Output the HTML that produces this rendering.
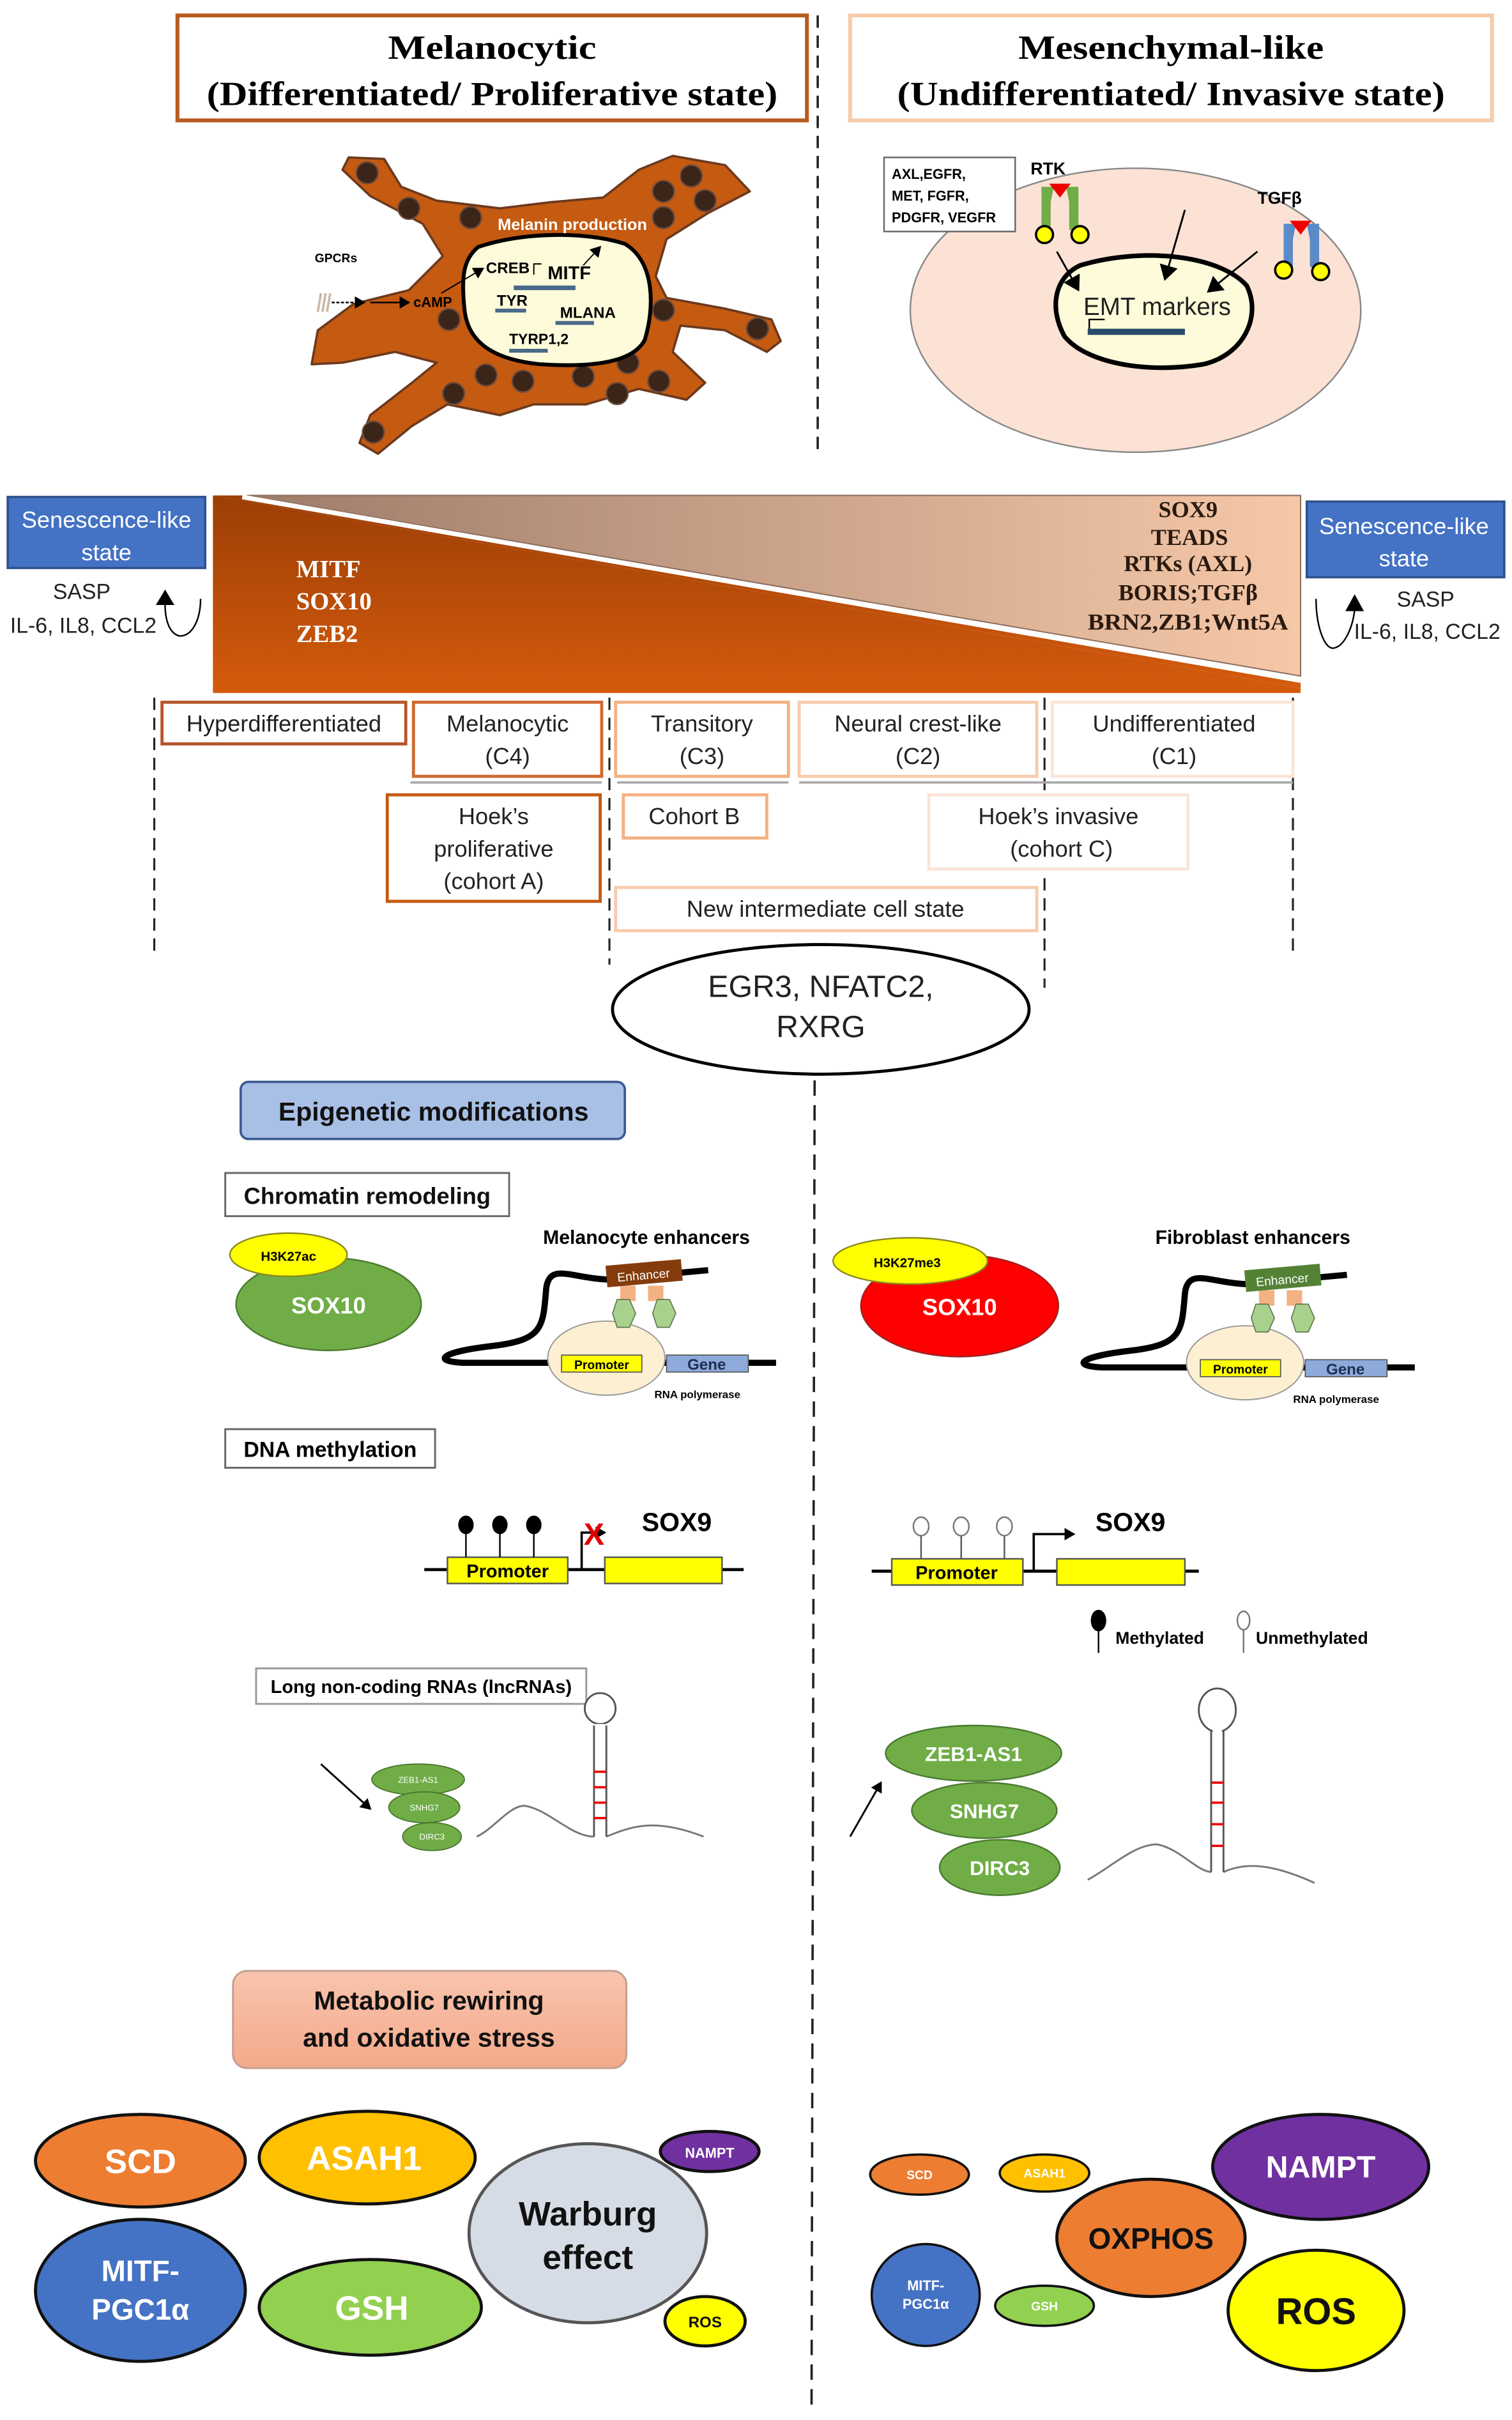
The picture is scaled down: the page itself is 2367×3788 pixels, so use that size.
<!DOCTYPE html>
<html><head><meta charset="utf-8"><style>
html,body{margin:0;padding:0;background:#fff}
svg{display:block}
.s{font-family:"Liberation Sans Narrow","Liberation Sans",sans-serif}
.r{font-family:"Liberation Serif",serif;font-weight:bold}
</style></head><body>
<svg width="2367" height="3788" viewBox="0 0 980 1568" preserveAspectRatio="none" xmlns="http://www.w3.org/2000/svg">
<defs>
<linearGradient id="dk" x1="0" y1="0" x2="0" y2="1"><stop offset="0" stop-color="#9c3e06"/><stop offset="1" stop-color="#d45b0c"/></linearGradient>
<linearGradient id="lt" x1="0" y1="0" x2="1" y2="0"><stop offset="0" stop-color="#9d7c6a"/><stop offset="1" stop-color="#f6c8a8"/></linearGradient>
<linearGradient id="met" x1="0" y1="0" x2="0" y2="1"><stop offset="0" stop-color="#f8c4ae"/><stop offset="1" stop-color="#f4a98a"/></linearGradient>
<marker id="ah" markerWidth="8" markerHeight="8" refX="6" refY="4" orient="auto" markerUnits="userSpaceOnUse"><path d="M0,0 L7,4 L0,8 z" fill="#000"/></marker>
<marker id="ah2" markerWidth="12" markerHeight="12" refX="9" refY="6" orient="auto" markerUnits="userSpaceOnUse"><path d="M0,0 L10,6 L0,12 z" fill="#000"/></marker>
</defs>
<rect width="980" height="1568" fill="#fff"/>

<!-- Titles -->
<rect x="115" y="10" width="408" height="68" fill="#fff" stroke="#b85a1e" stroke-width="2.5"/>
<text class="r" x="319" y="38" font-size="22" text-anchor="middle" textLength="135" lengthAdjust="spacingAndGlyphs">Melanocytic</text>
<text class="r" x="319" y="68" font-size="22" text-anchor="middle" textLength="370" lengthAdjust="spacingAndGlyphs">(Differentiated/ Proliferative state)</text>
<rect x="551" y="10" width="416" height="68" fill="#fff" stroke="#f7cba9" stroke-width="2.5"/>
<text class="r" x="759" y="38" font-size="22" text-anchor="middle" textLength="198" lengthAdjust="spacingAndGlyphs">Mesenchymal-like</text>
<text class="r" x="759" y="68" font-size="22" text-anchor="middle" textLength="355" lengthAdjust="spacingAndGlyphs">(Undifferentiated/ Invasive state)</text>
<line x1="530" y1="10" x2="530" y2="295" stroke="#222" stroke-width="1.5" stroke-dasharray="8,5"/>

<!-- Melanocyte -->
<path d="M226,102 L249,103 L260,121 L283,130 L324,135 L357,131 L391,128 L414,110 L436,101 L470,107 L486,124 L459,138 L432,155 L425,179 L432,193 L470,200 L500,207 L506,221 L497,228 L470,214 L441,211 L436,228 L457,248 L445,259 L414,252 L380,262 L346,262 L324,269 L290,262 L267,276 L245,294 L233,287 L240,269 L267,248 L283,235 L256,228 L222,235 L202,236 L206,214 L229,197 L265,188 L287,166 L274,145 L240,127 L222,110 Z" fill="#c55a11" stroke="#6b3a1e" stroke-width="1.5" stroke-linejoin="round"/>
<g fill="#3b2418" stroke="#6b4a3a" stroke-width="1">
<circle cx="238" cy="112" r="7"/><circle cx="265" cy="135" r="7"/><circle cx="305" cy="141" r="7"/>
<circle cx="448" cy="114" r="7"/><circle cx="430" cy="124" r="7"/><circle cx="457" cy="130" r="7"/><circle cx="430" cy="141" r="7"/>
<circle cx="291" cy="207" r="7"/><circle cx="430" cy="201" r="7"/><circle cx="491" cy="213" r="7"/>
<circle cx="315" cy="243" r="7"/><circle cx="339" cy="247" r="7"/><circle cx="378" cy="244" r="7"/><circle cx="407" cy="235" r="7"/><circle cx="427" cy="247" r="7"/><circle cx="400" cy="255" r="7"/><circle cx="294" cy="255" r="7"/><circle cx="242" cy="280" r="7"/>
</g>
<path d="M310,160 C340,150 380,150 405,158 C425,170 424,200 418,220 C410,236 380,238 350,236 C320,233 303,222 301,200 C299,180 300,168 310,160 Z" fill="#fdfbda" stroke="#000" stroke-width="2.5"/>
<text class="s" x="371" y="149" font-size="10.5" fill="#fff" font-weight="bold" text-anchor="middle">Melanin production</text>
<text class="s" x="204" y="170" font-size="8" font-weight="bold">GPCRs</text>
<g stroke="#c9b8a8" stroke-width="1.5" fill="none"><path d="M208,190 l-2,12"/><path d="M211,190 l-2,12"/><path d="M214,190 l-2,12"/></g>
<line x1="215" y1="196" x2="236" y2="196" stroke="#000" stroke-width="1" stroke-dasharray="2,1" marker-end="url(#ah)"/>
<line x1="240" y1="196" x2="265" y2="196" stroke="#000" stroke-width="1" marker-end="url(#ah)"/>
<text class="s" x="268" y="199" font-size="9" font-weight="bold">cAMP</text>
<line x1="286" y1="190" x2="313" y2="174" stroke="#000" stroke-width="0.8" marker-end="url(#ah)"/>
<text class="s" x="315" y="177" font-size="10" font-weight="bold">CREB</text>
<path d="M346,178 v-7 h5" stroke="#000" fill="none" stroke-width="0.8"/>
<text class="s" x="355" y="181" font-size="12" font-weight="bold">MITF</text>
<line x1="378" y1="172" x2="389" y2="160" stroke="#000" stroke-width="0.8" marker-end="url(#ah)"/>
<g fill="#4a6a8a"><rect x="333" y="185" width="40" height="3"/><rect x="321" y="200" width="20" height="2.5"/><rect x="360" y="208" width="25" height="2.5"/><rect x="330" y="226" width="25" height="2.5"/></g>
<text class="s" x="322" y="198" font-size="10" font-weight="bold">TYR</text>
<text class="s" x="363" y="206" font-size="10" font-weight="bold">MLANA</text>
<text class="s" x="330" y="223" font-size="9.5" font-weight="bold">TYRP1,2</text>

<!-- Mesenchymal cell -->
<ellipse cx="736" cy="201" rx="146" ry="92" fill="#fbe2d5" stroke="#888" stroke-width="1"/>
<path d="M700,172 C740,160 790,165 808,185 C818,205 806,230 780,236 C745,242 705,236 690,218 C680,200 683,180 700,172 Z" fill="#fdfbda" stroke="#000" stroke-width="3"/>
<rect x="573" y="102" width="85" height="48" fill="#fff" stroke="#666" stroke-width="1"/>
<text class="s" x="578" y="116" font-size="9" font-weight="bold">AXL,EGFR,</text>
<text class="s" x="578" y="130" font-size="9" font-weight="bold">MET, FGFR,</text>
<text class="s" x="578" y="144" font-size="9" font-weight="bold">PDGFR, VEGFR</text>
<text class="s" x="668" y="113" font-size="11" font-weight="bold">RTK</text>
<path d="M675,121 h8 l-2,10 v18 h-6 v-18 z" fill="#70ad47"/><path d="M699,121 h-8 l2,10 v18 h6 v-18 z" fill="#70ad47"/>
<path d="M680,119 h14 l-7,9 z" fill="#e00"/>
<circle cx="677" cy="152" r="5.5" fill="#ff0" stroke="#000" stroke-width="1.5"/><circle cx="700" cy="152" r="5.5" fill="#ff0" stroke="#000" stroke-width="1.5"/>
<text class="s" x="815" y="132" font-size="11" font-weight="bold">TGFβ</text>
<path d="M832,145 h8 l-2,10 v18 h-6 v-18 z" fill="#5b8ac8"/><path d="M855,145 h-8 l2,10 v18 h6 v-18 z" fill="#5b8ac8"/>
<path d="M836,143 h14 l-7,9 z" fill="#e00"/>
<circle cx="832" cy="175" r="5.5" fill="#ff0" stroke="#000" stroke-width="1.5"/><circle cx="856" cy="176" r="5.5" fill="#ff0" stroke="#000" stroke-width="1.5"/>
<g stroke="#000" stroke-width="1.2" fill="none">
<line x1="685" y1="163" x2="699" y2="188" marker-end="url(#ah2)"/>
<line x1="768" y1="136" x2="755" y2="181" marker-end="url(#ah2)"/>
<line x1="815" y1="163" x2="783" y2="189" marker-end="url(#ah2)"/>
</g>
<text class="s" x="750" y="204" font-size="16" text-anchor="middle" fill="#222">EMT markers</text>
<path d="M706,215 v-8 h10" stroke="#000" fill="none" stroke-width="1"/>
<rect x="705" y="213" width="63" height="4" fill="#2a4a6a"/>

<!-- Gradient triangle -->
<polygon points="138,321 843,446 843,449 138,449" fill="url(#dk)"/>
<polygon points="138,321 160,321 843,441 843,446" fill="url(#dk)"/>
<polygon points="160,321 843,321 843,438" fill="url(#lt)" stroke="#8a6a5a" stroke-width="0.8"/>
<line x1="157" y1="322" x2="843" y2="441" stroke="#fff" stroke-width="3"/>
<text class="r" x="192" y="374" font-size="16" fill="#fff">MITF</text>
<text class="r" x="192" y="395" font-size="16" fill="#fff">SOX10</text>
<text class="r" x="192" y="416" font-size="16" fill="#fff">ZEB2</text>
<g class="r" font-size="15" fill="#2a1a10" text-anchor="middle">
<text x="770" y="335">SOX9</text><text x="771" y="353">TEADS</text><text x="770" y="370">RTKs (AXL)</text><text x="770" y="389">BORIS;TGFβ</text><text x="770" y="408" textLength="130" lengthAdjust="spacingAndGlyphs">BRN2,ZB1;Wnt5A</text>
</g>

<!-- Senescence -->
<rect x="5" y="322" width="128" height="46" fill="#4472c4" stroke="#2f528f" stroke-width="1.5"/>
<text class="s" x="69" y="342" font-size="15" fill="#fff" text-anchor="middle">Senescence-like</text>
<text class="s" x="69" y="363" font-size="15" fill="#fff" text-anchor="middle">state</text>
<text class="s" x="53" y="388" font-size="14" text-anchor="middle" fill="#222">SASP</text>
<text class="s" x="54" y="410" font-size="14" text-anchor="middle" fill="#222">IL-6, IL8, CCL2</text>
<path d="M130,388 C130,402 124,413 116,412 C109,410 107,400 107,392" fill="none" stroke="#000" stroke-width="1"/>
<path d="M101,392 L107,382 L113,392 z" fill="#000"/>
<rect x="847" y="325" width="128" height="49" fill="#4472c4" stroke="#2f528f" stroke-width="1.5"/>
<text class="s" x="910" y="346" font-size="15" fill="#fff" text-anchor="middle">Senescence-like</text>
<text class="s" x="910" y="367" font-size="15" fill="#fff" text-anchor="middle">state</text>
<text class="s" x="924" y="393" font-size="14" text-anchor="middle" fill="#222">SASP</text>
<text class="s" x="925" y="414" font-size="14" text-anchor="middle" fill="#222">IL-6, IL8, CCL2</text>
<path d="M853,388 C853,405 858,420 864,420 C872,419 877,405 878,395" fill="none" stroke="#000" stroke-width="1"/>
<path d="M872,396 L878,385 L884,396 z" fill="#000"/>

<!-- dashed verticals -->
<g stroke="#222" stroke-width="1.3" stroke-dasharray="8,5">
<line x1="100" y1="452" x2="100" y2="620"/><line x1="395" y1="452" x2="395" y2="625"/>
<line x1="677" y1="452" x2="677" y2="640"/><line x1="838" y1="452" x2="838" y2="620"/>
</g>

<!-- state boxes -->
<g class="s" font-size="15" text-anchor="middle" fill="#222">
<rect x="105" y="455" width="158" height="27" fill="#fff" stroke="#b5562a" stroke-width="2"/><text x="184" y="474">Hyperdifferentiated</text>
<rect x="268" y="455" width="122" height="48" fill="#fff" stroke="#d06a30" stroke-width="2"/><text x="329" y="474">Melanocytic</text><text x="329" y="495">(C4)</text>
<rect x="399" y="455" width="112" height="48" fill="#fff" stroke="#f4b183" stroke-width="2"/><text x="455" y="474">Transitory</text><text x="455" y="495">(C3)</text>
<rect x="518" y="455" width="154" height="48" fill="#fff" stroke="#f8cbad" stroke-width="2"/><text x="595" y="474">Neural crest-like</text><text x="595" y="495">(C2)</text>
<rect x="682" y="455" width="156" height="48" fill="#fff" stroke="#fbe5d6" stroke-width="2"/><text x="761" y="474">Undifferentiated</text><text x="761" y="495">(C1)</text>
<line x1="266" y1="507" x2="390" y2="507" stroke="#aaa" stroke-width="1.5"/><line x1="400" y1="507" x2="511" y2="507" stroke="#aaa" stroke-width="1.5"/><line x1="518" y1="507" x2="838" y2="507" stroke="#aaa" stroke-width="1.5"/>
<rect x="251" y="515" width="138" height="69" fill="#fff" stroke="#c55a11" stroke-width="2"/><text x="320" y="534">Hoek’s</text><text x="320" y="555">proliferative</text><text x="320" y="576">(cohort A)</text>
<rect x="404" y="515" width="93" height="28" fill="#fff" stroke="#f4b183" stroke-width="2"/><text x="450" y="534">Cohort B</text>
<rect x="602" y="515" width="168" height="48" fill="#fff" stroke="#fbe5d6" stroke-width="2"/><text x="686" y="534">Hoek’s invasive</text><text x="688" y="555">(cohort C)</text>
<rect x="399" y="575" width="273" height="28" fill="#fff" stroke="#f8cbad" stroke-width="2"/><text x="535" y="594">New intermediate cell state</text>
</g>
<ellipse cx="532" cy="654" rx="135" ry="42" fill="#fff" stroke="#000" stroke-width="2"/>
<text class="s" x="532" y="646" font-size="20" text-anchor="middle" fill="#222">EGR3, NFATC2,</text>
<text class="s" x="532" y="672" font-size="20" text-anchor="middle" fill="#222">RXRG</text>
<line x1="528" y1="700" x2="526" y2="1560" stroke="#222" stroke-width="1.5" stroke-dasharray="10,6"/>

<!-- Epigenetic -->
<rect x="156" y="701" width="249" height="37" rx="5" fill="#a9c0e6" stroke="#3a5a90" stroke-width="1.5"/>
<text class="s" x="281" y="726" font-size="17" font-weight="bold" text-anchor="middle" fill="#111">Epigenetic modifications</text>
<rect x="146" y="760" width="184" height="28" fill="#fff" stroke="#666" stroke-width="1.2"/>
<text class="s" x="238" y="780" font-size="15" font-weight="bold" text-anchor="middle" fill="#111">Chromatin remodeling</text>
<ellipse cx="213" cy="845" rx="60" ry="30" fill="#70ad47" stroke="#4a7a30" stroke-width="1"/>
<text class="s" x="213" y="851" font-size="15" font-weight="bold" fill="#fff" text-anchor="middle">SOX10</text>
<ellipse cx="187" cy="813" rx="38" ry="14" fill="#ffff00" stroke="#8a8a20" stroke-width="1"/>
<text class="s" x="187" y="817" font-size="8.5" font-weight="bold" text-anchor="middle">H3K27ac</text>

<ellipse cx="622" cy="846" rx="64" ry="33" fill="#ff0000" stroke="#a02020" stroke-width="1"/>
<text class="s" x="622" y="852" font-size="15" font-weight="bold" fill="#fff" text-anchor="middle">SOX10</text>
<ellipse cx="590" cy="817" rx="50" ry="15" fill="#ffff00" stroke="#8a8a20" stroke-width="1"/>
<text class="s" x="588" y="821" font-size="8.5" font-weight="bold" text-anchor="middle">H3K27me3</text>

<g id="enh">
<path d="M459,823 L393,829 C370,828 356,818 354,835 C352,860 352,868 320,872 C285,876 280,882 300,883 L503,883" fill="none" stroke="#000" stroke-width="4"/>
<ellipse cx="393" cy="880" rx="38" ry="24" fill="#fcefd2" stroke="#999" stroke-width="0.8"/>
<rect x="402" y="833" width="10" height="10" fill="#f4b183"/><rect x="420" y="833" width="10" height="10" fill="#f4b183"/>
<polygon points="397,851 400,842 408,842 412,851 408,860 400,860" fill="#a9d18e" stroke="#607a50" stroke-width="0.7"/>
<polygon points="423,851 426,842 434,842 438,851 434,860 426,860" fill="#a9d18e" stroke="#607a50" stroke-width="0.7"/>
<rect x="364" y="878" width="52" height="11" fill="#ffff00" stroke="#555" stroke-width="0.7"/>
<text class="s" x="390" y="887" font-size="8" font-weight="bold" text-anchor="middle">Promoter</text>
<rect x="432" y="878" width="53" height="11" fill="#8eaadb" stroke="#555" stroke-width="0.7"/>
<text class="s" x="458" y="887.5" font-size="10" font-weight="bold" text-anchor="middle" fill="#1f3050">Gene</text>
<text class="s" x="452" y="906" font-size="7" font-weight="bold" text-anchor="middle">RNA polymerase</text>
</g>
<g transform="translate(0,0)">
<rect x="393" y="818" width="49" height="14" fill="#843c0c" transform="rotate(-5 417 825)"/>
<text class="s" x="417" y="829" font-size="8" fill="#fff" text-anchor="middle" transform="rotate(-5 417 825)">Enhancer</text>
</g>
<text class="s" x="419" y="806" font-size="12.5" font-weight="bold" text-anchor="middle">Melanocyte enhancers</text>
<use href="#enh" transform="translate(414,3)"/>
<rect x="807" y="821" width="49" height="14" fill="#548235" transform="rotate(-5 831 828)"/>
<text class="s" x="831" y="832" font-size="8" fill="#fff" text-anchor="middle" transform="rotate(-5 831 828)">Enhancer</text>
<text class="s" x="812" y="806" font-size="12.5" font-weight="bold" text-anchor="middle">Fibroblast enhancers</text>

<!-- DNA methylation -->
<rect x="146" y="926" width="136" height="25" fill="#fff" stroke="#666" stroke-width="1.2"/>
<text class="s" x="214" y="944" font-size="14" font-weight="bold" text-anchor="middle">DNA methylation</text>
<line x1="275" y1="1017" x2="482" y2="1017" stroke="#000" stroke-width="2"/>
<rect x="290" y="1009" width="78" height="17" fill="#ffff00" stroke="#555"/>
<text class="s" x="329" y="1022" font-size="12" font-weight="bold" text-anchor="middle">Promoter</text>
<rect x="392" y="1009" width="76" height="17" fill="#ffff00" stroke="#555"/>
<g stroke="#000" stroke-width="1"><line x1="302" y1="990" x2="302" y2="1009"/><line x1="324" y1="990" x2="324" y2="1009"/><line x1="346" y1="990" x2="346" y2="1009"/></g>
<g fill="#000"><ellipse cx="302" cy="988" rx="5" ry="6"/><ellipse cx="324" cy="988" rx="5" ry="6"/><ellipse cx="346" cy="988" rx="5" ry="6"/></g>
<path d="M377,1017 V993 H392" stroke="#000" fill="none" stroke-width="1.5" marker-end="url(#ah)"/>
<text x="385" y="1001" font-size="20" font-weight="bold" fill="#e00000" text-anchor="middle" font-family="Liberation Sans,sans-serif">X</text>
<text class="s" x="416" y="992" font-size="17" font-weight="bold">SOX9</text>

<line x1="565" y1="1018" x2="777" y2="1018" stroke="#000" stroke-width="2"/>
<rect x="578" y="1010" width="85" height="17" fill="#ffff00" stroke="#555"/>
<text class="s" x="620" y="1023" font-size="12" font-weight="bold" text-anchor="middle">Promoter</text>
<rect x="685" y="1010" width="83" height="17" fill="#ffff00" stroke="#555"/>
<g stroke="#555" stroke-width="1"><line x1="597" y1="994" x2="597" y2="1010"/><line x1="623" y1="994" x2="623" y2="1010"/><line x1="651" y1="994" x2="651" y2="1010"/></g>
<g fill="#fff" stroke="#777"><ellipse cx="597" cy="989" rx="5" ry="6"/><ellipse cx="623" cy="989" rx="5" ry="6"/><ellipse cx="651" cy="989" rx="5" ry="6"/></g>
<path d="M670,1018 V994 H696" stroke="#000" fill="none" stroke-width="1.5" marker-end="url(#ah)"/>
<text class="s" x="710" y="992" font-size="17" font-weight="bold">SOX9</text>
<line x1="712" y1="1050" x2="712" y2="1071" stroke="#000"/><ellipse cx="712" cy="1050" rx="5" ry="7" fill="#000"/>
<text class="s" x="723" y="1065" font-size="11" font-weight="bold">Methylated</text>
<line x1="806" y1="1052" x2="806" y2="1071" stroke="#777"/><ellipse cx="806" cy="1050" rx="4" ry="6" fill="#fff" stroke="#777"/>
<text class="s" x="814" y="1065" font-size="11" font-weight="bold">Unmethylated</text>

<!-- lncRNA -->
<rect x="166" y="1081" width="214" height="23" fill="#fff" stroke="#999" stroke-width="1.2"/>
<text class="s" x="273" y="1097" font-size="12" font-weight="bold" text-anchor="middle">Long non-coding RNAs (lncRNAs)</text>
<line x1="208" y1="1143" x2="240" y2="1172" stroke="#000" stroke-width="1.2" marker-end="url(#ah)"/>
<g fill="#70ad47" stroke="#4a7a30" stroke-width="0.8">
<ellipse cx="271" cy="1153" rx="30" ry="10"/><ellipse cx="275" cy="1171" rx="23" ry="10"/><ellipse cx="280" cy="1190" rx="19" ry="9"/></g>
<g class="s" fill="#fff" font-size="5.5" text-anchor="middle"><text x="271" y="1155">ZEB1-AS1</text><text x="275" y="1173">SNHG7</text><text x="280" y="1192">DIRC3</text></g>
<path d="M309,1190 C320,1185 330,1170 340,1170 C355,1172 370,1190 385,1190 M393,1190 C410,1183 425,1178 456,1190" fill="none" stroke="#777" stroke-width="1.2"/>
<path d="M385,1190 V1118 M393,1190 V1118" stroke="#555" stroke-width="1.2" fill="none"/>
<circle cx="389" cy="1107" r="10" fill="#fff" stroke="#555" stroke-width="1.2"/>
<rect x="386" y="1117" width="6" height="3" fill="#fff"/>
<g stroke="#e00" stroke-width="1.5"><line x1="385" y1="1148" x2="393" y2="1148"/><line x1="385" y1="1158" x2="393" y2="1158"/><line x1="385" y1="1168" x2="393" y2="1168"/><line x1="385" y1="1178" x2="393" y2="1178"/></g>

<line x1="551" y1="1190" x2="571" y2="1155" stroke="#000" stroke-width="1.2" marker-end="url(#ah)"/>
<g fill="#70ad47" stroke="#4a7a30" stroke-width="1">
<ellipse cx="631" cy="1136" rx="57" ry="18"/><ellipse cx="638" cy="1173" rx="47" ry="18"/><ellipse cx="648" cy="1210" rx="39" ry="18"/></g>
<g class="s" fill="#fff" font-size="13" font-weight="bold" text-anchor="middle"><text x="631" y="1141">ZEB1-AS1</text><text x="638" y="1178">SNHG7</text><text x="648" y="1215">DIRC3</text></g>
<path d="M705,1218 C720,1210 735,1195 750,1195 C765,1198 775,1212 785,1213 M793,1213 C810,1205 830,1210 852,1220" fill="none" stroke="#777" stroke-width="1.2"/>
<path d="M785,1213 V1120 M793,1213 V1120" stroke="#555" stroke-width="1.2" fill="none"/>
<ellipse cx="789" cy="1108" rx="12" ry="14" fill="#fff" stroke="#555" stroke-width="1.2"/>
<rect x="786" y="1119" width="6" height="4" fill="#fff"/>
<g stroke="#e00" stroke-width="1.5"><line x1="785" y1="1155" x2="793" y2="1155"/><line x1="785" y1="1168" x2="793" y2="1168"/><line x1="785" y1="1182" x2="793" y2="1182"/><line x1="785" y1="1196" x2="793" y2="1196"/></g>

<!-- Metabolic -->
<rect x="151" y="1277" width="255" height="63" rx="9" fill="url(#met)" stroke="#c0a090" stroke-width="1.2"/>
<text class="s" x="278" y="1302" font-size="17" font-weight="bold" text-anchor="middle" fill="#111">Metabolic rewiring</text>
<text class="s" x="278" y="1326" font-size="17" font-weight="bold" text-anchor="middle" fill="#111">and oxidative stress</text>

<g stroke="#111" stroke-width="2">
<ellipse cx="91" cy="1400" rx="68" ry="30" fill="#ed7d31"/>
<ellipse cx="238" cy="1398" rx="70" ry="30" fill="#ffc000"/>
<ellipse cx="91" cy="1484" rx="68" ry="46" fill="#4472c4"/>
<ellipse cx="240" cy="1495" rx="72" ry="31" fill="#92d050"/>
<ellipse cx="381" cy="1447" rx="77" ry="58" fill="#d6dce5" stroke="#555"/>
<ellipse cx="460" cy="1394" rx="32" ry="13" fill="#7030a0"/>
<ellipse cx="457" cy="1504" rx="26" ry="16" fill="#ffff00"/>
<ellipse cx="596" cy="1409" rx="32" ry="13" fill="#ed7d31" stroke-width="1.5"/>
<ellipse cx="677" cy="1408" rx="29" ry="12" fill="#ffc000" stroke-width="1.5"/>
<ellipse cx="856" cy="1404" rx="70" ry="34" fill="#7030a0"/>
<ellipse cx="746" cy="1450" rx="61" ry="38" fill="#ed7d31"/>
<ellipse cx="600" cy="1487" rx="35" ry="33" fill="#4472c4" stroke-width="1.5"/>
<ellipse cx="677" cy="1494" rx="32" ry="13" fill="#92d050" stroke-width="1.5"/>
<ellipse cx="853" cy="1497" rx="57" ry="39" fill="#ffff00"/>
</g>
<g class="s" font-weight="bold" text-anchor="middle">
<text x="91" y="1408" font-size="22" fill="#fff">SCD</text>
<text x="236" y="1406" font-size="22" fill="#fff">ASAH1</text>
<text x="91" y="1478" font-size="19" fill="#fff">MITF-</text>
<text x="91" y="1503" font-size="19" fill="#fff">PGC1α</text>
<text x="241" y="1503" font-size="22" fill="#fff">GSH</text>
<text x="381" y="1442" font-size="22" fill="#111">Warburg</text>
<text x="381" y="1470" font-size="22" fill="#111">effect</text>
<text x="460" y="1398" font-size="9" fill="#fff">NAMPT</text>
<text x="457" y="1508" font-size="10" fill="#111">ROS</text>
<text x="596" y="1412" font-size="8" fill="#fff">SCD</text>
<text x="677" y="1411" font-size="8" fill="#fff">ASAH1</text>
<text x="856" y="1411" font-size="20" fill="#fff">NAMPT</text>
<text x="746" y="1457" font-size="19" fill="#111">OXPHOS</text>
<text x="600" y="1484" font-size="9" fill="#fff">MITF-</text>
<text x="600" y="1496" font-size="9" fill="#fff">PGC1α</text>
<text x="677" y="1497" font-size="8" fill="#fff">GSH</text>
<text x="853" y="1506" font-size="24" fill="#111">ROS</text>
</g>
</svg>
</body></html>
